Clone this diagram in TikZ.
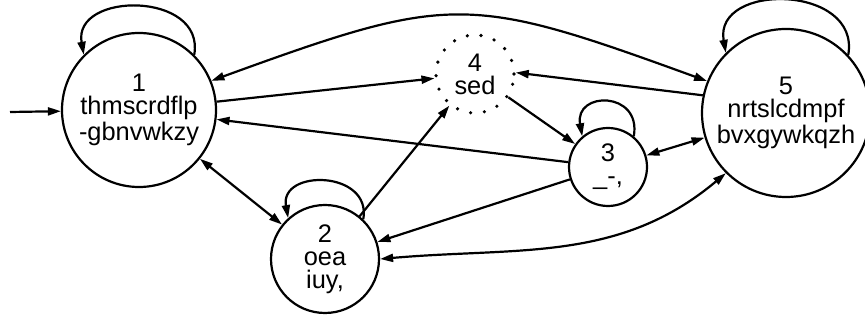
\documentclass[tikz,border=0pt]{standalone}
\usepackage{fontspec}
\setmainfont{Liberation Sans}
\usepackage{tikz}
\usetikzlibrary{arrows.meta}

\begin{document}
\begin{tikzpicture}[x=0.5pt, y=0.5pt, line width=1.1pt,
    >={Triangle[length=6.5pt,width=4pt]},
    state/.style={draw, circle, inner sep=0pt, align=center,
        font=\fontsize{12.7}{11.5}\selectfont}]
            \useasboundingbox (0,0) rectangle (865,320);
            \node[state, minimum size=77pt] (s1) at (139,210) {1\\thmscrdflp\\-gbnvwkzy};
            \node[state, minimum size=54pt] (s2) at (325,61) {2\\oea\\iuy,};
            \node[state, minimum size=39pt] (s3) at (608,153) {3\\\_-,};
            \node[state, minimum size=39pt, line width=1.8pt, line cap=round,
                dash pattern=on 0pt off 6.9pt] (s4) at (475,246) {4\\sed};
            \node[state, minimum size=84pt] (s5) at (786,207) {5\\nrtslcdmpf\\bvxgywkqzh};
            \coordinate (start) at (10,208);
            \draw[->] (start) -- (s1);
            \draw[->] (s1.45) to[out=80, in=100, looseness=1.5] (s1.135);
            \draw[<->] (s1.22) to[out=20, in=160, looseness=1.32] (s5.158);
            \draw[->] (s1) -- (s4);
            \draw[->] (s3) -- (s1);
            \draw[<->] (s1) -- (s2);
            \draw[->] (s2.46) to[out=80, in=100, looseness=1.7] (s2.132);
            \draw[->] (s2) -- (s4);
            \draw[->] (s4) -- (s3);
            \draw[->] (s3.50) to[out=80, in=100, looseness=2.3] (s3.130);
            \draw[->] (s3) -- (s2);
            \draw[<->] (s3) -- (s5);
            \draw[->] (s5.168) -- (s4.2);
            \draw[<->] (s2.0) to[out=5, in=220] (s5.225);
            \draw[->] (s5.43) to[out=80, in=100, looseness=1.5] (s5.135);
\end{tikzpicture}
\end{document}
